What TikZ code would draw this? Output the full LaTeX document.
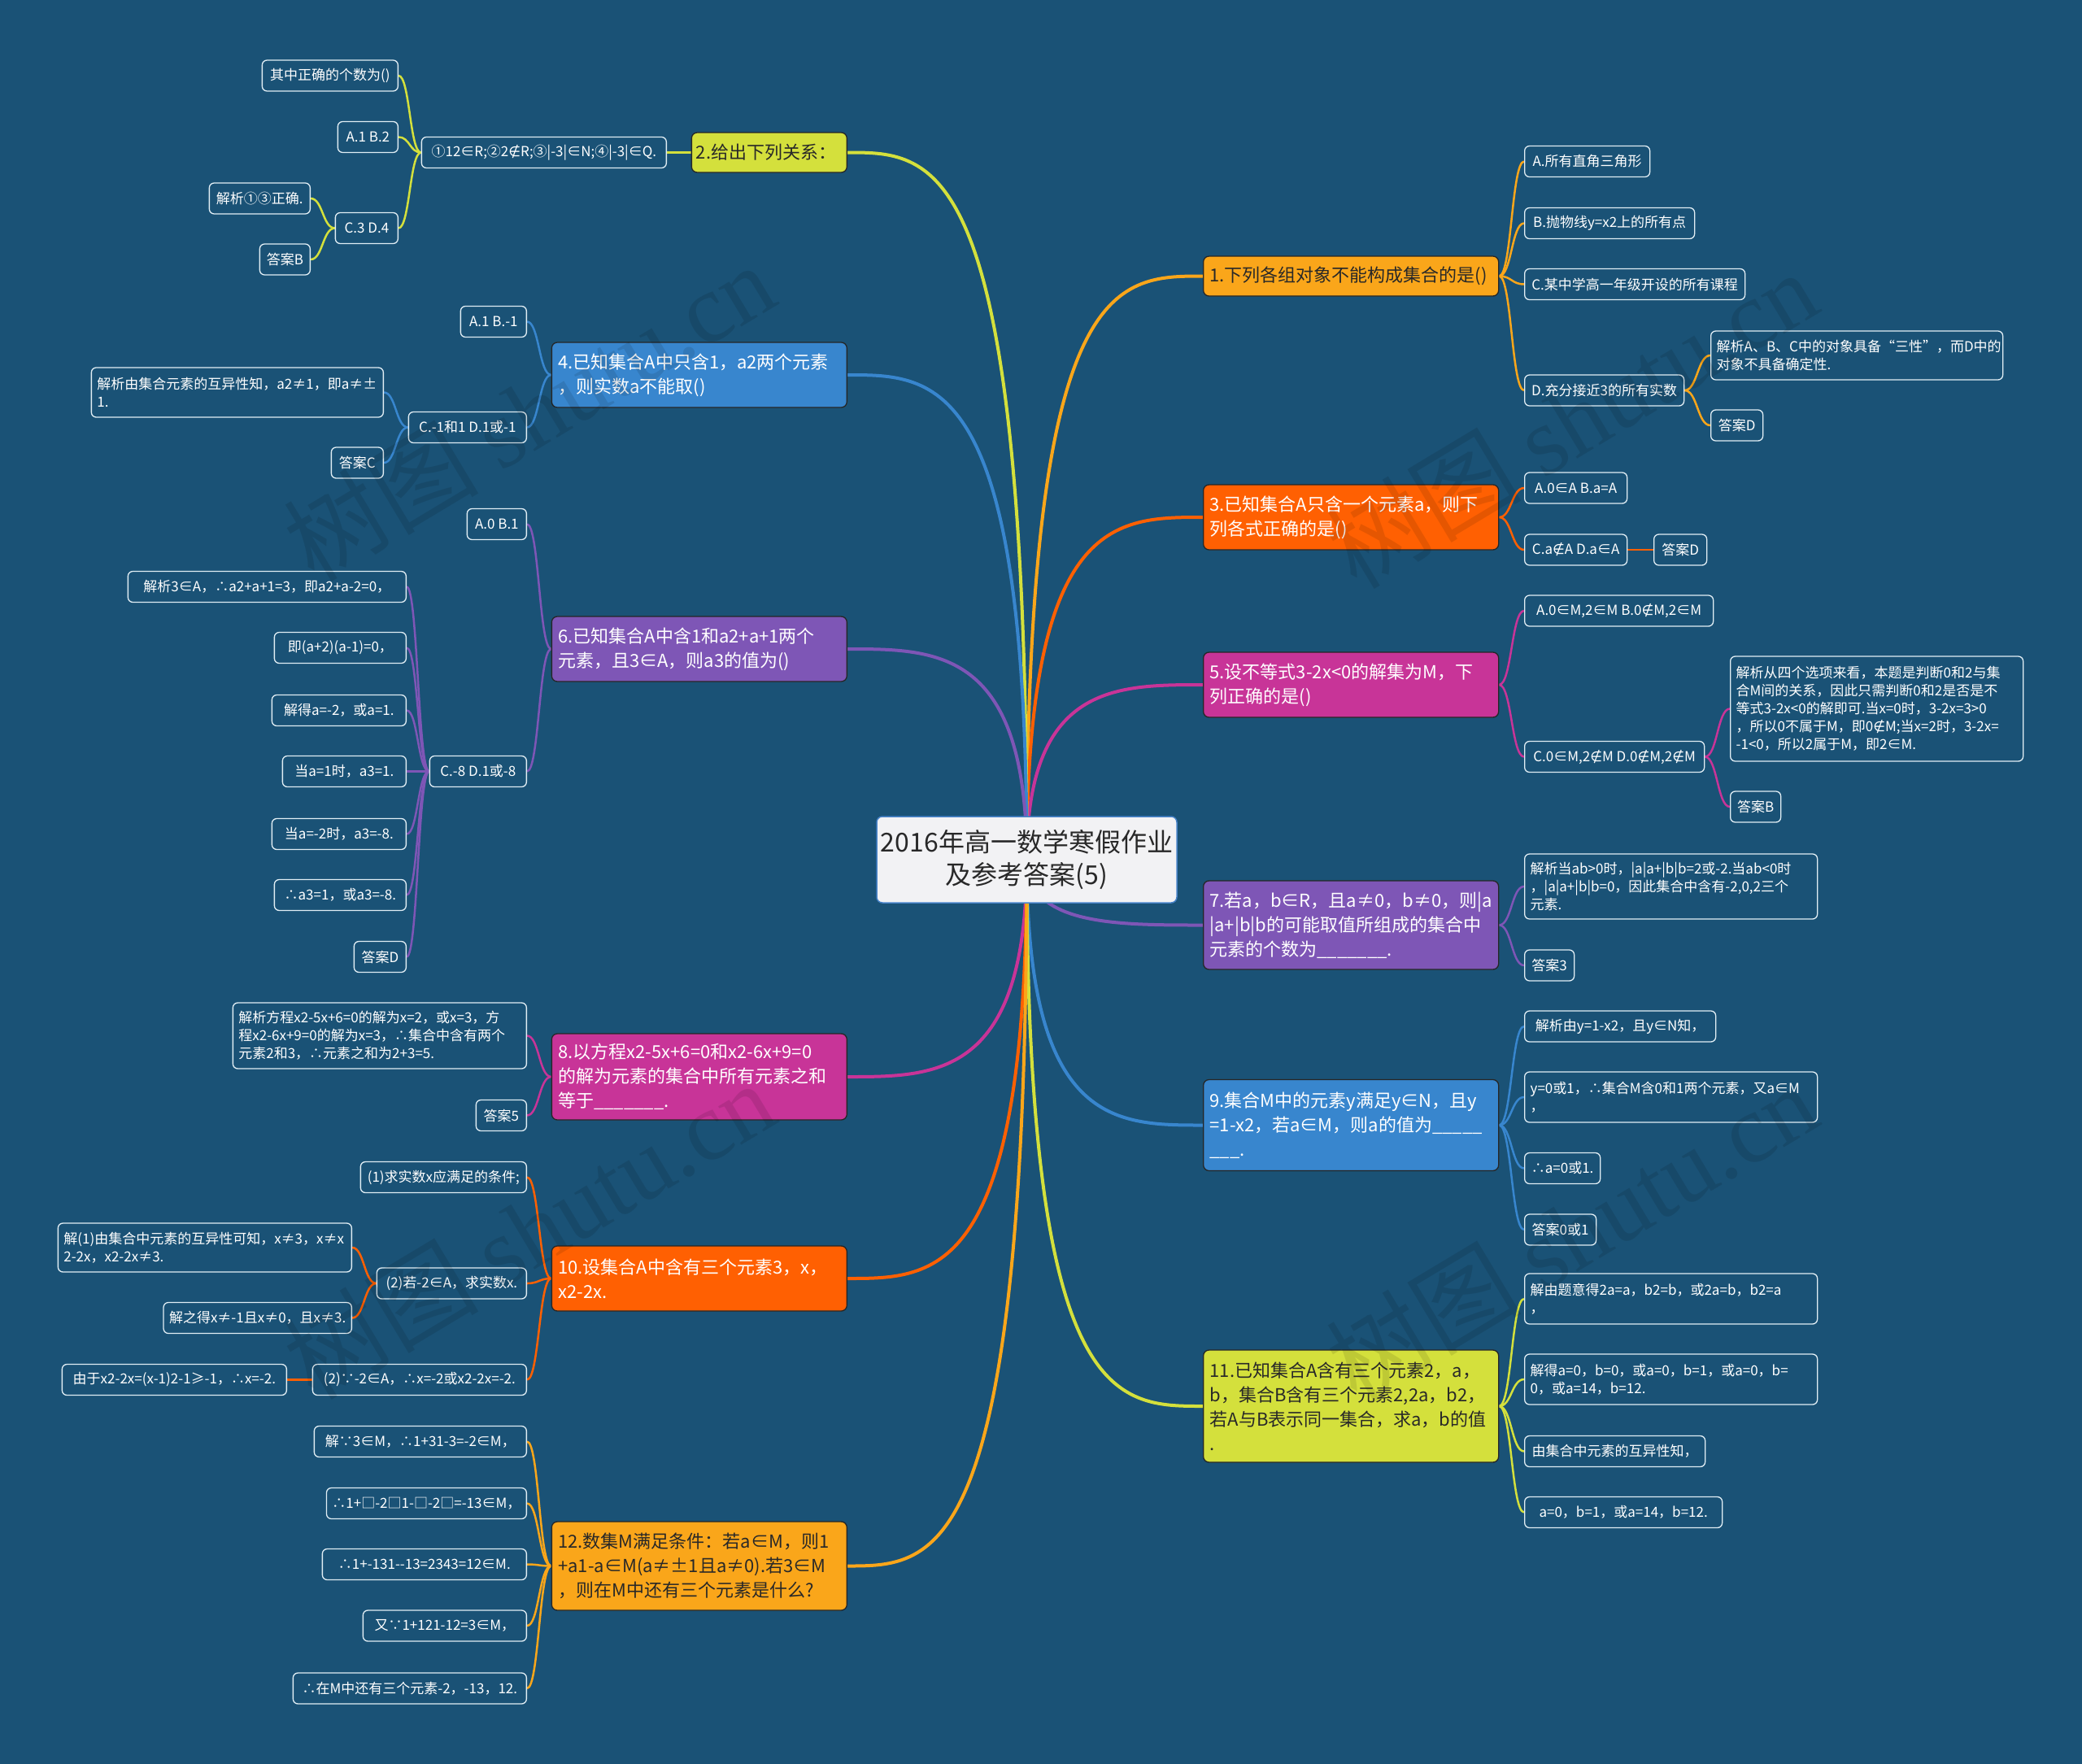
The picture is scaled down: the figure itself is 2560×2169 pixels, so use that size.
\documentclass[tikz,border=0pt]{standalone}
\usepackage{fontspec}
\setmainfont{Noto Sans CJK SC}
\newfontfamily\djv{DejaVu Sans}
\newfontfamily\wmser{Liberation Serif}
\usetikzlibrary{calc}
\definecolor{bgc}{RGB}{26,82,118}
\definecolor{cyo}{RGB}{250,166,26}
\definecolor{cyg}{RGB}{212,224,60}
\definecolor{cor}{RGB}{255,96,2}
\definecolor{cbl}{RGB}{56,134,206}
\definecolor{cmg}{RGB}{200,52,152}
\definecolor{cpu}{RGB}{126,86,182}
\definecolor{leafb}{RGB}{225,238,245}
\definecolor{ctrf}{RGB}{242,242,244}
\definecolor{ctrb}{RGB}{70,130,200}
\definecolor{dtxt}{RGB}{40,40,40}
\newcommand{\nn}{{\djv ∉}}
\pgfdeclarelayer{bglayer}
\pgfdeclarelayer{edgelayer}
\pgfsetlayers{bglayer,edgelayer,main}
\tikzset{
 leaf/.style={draw=leafb, line width=1.3pt, rounded corners=6pt, fill=bgc, text=white,
   font=\fontsize{17}{22}\selectfont, inner xsep=7pt, inner ysep=4pt, minimum height=38pt, align=left},
 topic/.style={draw=black!85, line width=1.3pt, rounded corners=7pt,
   font=\fontsize{22}{30}\selectfont, inner xsep=8pt, inner ysep=5pt, align=left, text width=347pt},
 ctr/.style={fill=ctrf, draw=ctrb, line width=1.5pt, rounded corners=7pt, text=dtxt,
   font=\fontsize{32}{40}\selectfont, align=center, minimum width=369pt, minimum height=106pt},
 mainedge/.style={line width=4pt, to path={let \p1=(\tikztostart), \p2=(\tikztotarget) in
   .. controls (\x1,\y2) and ({(\x1+\x2)/2},\y2) .. (\tikztotarget) \tikztonodes}},
 subedge/.style={line width=2.5pt, to path={let \p1=(\tikztostart), \p2=(\tikztotarget) in
   .. controls ({(\x1+\x2)/2},\y1) and ({(\x1+\x2)/2},\y2) .. (\tikztotarget) \tikztonodes}},
 wm/.style={text=black, text opacity=0.1, font=\fontsize{120}{120}\selectfont},
}
\begin{document}
\exhyphenpenalty=10000
\hyphenpenalty=10000
\begin{tikzpicture}[x=1pt,y=-1pt]
\begin{pgfonlayer}{bglayer}
\fill[bgc] (0,0) rectangle (2560,2169);
\end{pgfonlayer}
\useasboundingbox (0,0) rectangle (2560,2169);

% center
\node[ctr] (C) at (1262.5,1057) {2016年高一数学寒假作业\\及参考答案(5)};

% right topics
\node[topic, fill=cyo, text=dtxt, minimum height=49pt, anchor=west] (t1) at (1479,339.5) {1.下列各组对象不能构成集合的是()};
\node[topic, fill=cor, text=white, minimum height=80pt, anchor=west] (t3) at (1479,636) {3.已知集合A只含一个元素a，则下\\列各式正确的是()};
\node[topic, fill=cmg, text=white, minimum height=80pt, anchor=west] (t5) at (1479,842) {5.设不等式3-2x<0的解集为M，下\\列正确的是()};
\node[topic, fill=cpu, text=white, minimum height=109pt, anchor=west] (t7) at (1479,1137.5) {7.若a，b∈R，且a≠0，b≠0，则|a\\|a+|b|b的可能取值所组成的集合中\\元素的个数为\_\_\_\_\_\_\_.};
\node[topic, fill=cbl, text=white, minimum height=112pt, anchor=west] (t9) at (1479,1383.5) {9.集合M中的元素y满足y∈N，且y\\=1-x2，若a∈M，则a的值为\_\_\_\_\_\\\_\_\_.};
\node[topic, fill=cyg, text=dtxt, minimum height=138pt, anchor=west] (t11) at (1479,1729) {11.已知集合A含有三个元素2，a，\\b，集合B含有三个元素2,2a，b2，\\若A与B表示同一集合，求a，b的值\\.};

% left topics
\node[topic, fill=cyg, text=dtxt, minimum height=49pt, text width=180pt, inner xsep=5.5pt, anchor=east] (t2) at (1042,187.5) {2.给出下列关系：};
\node[topic, fill=cbl, text=white, minimum height=80pt, anchor=east] (t4) at (1042,461) {4.已知集合A中只含1，a2两个元素\\，则实数a不能取()};
\node[topic, fill=cpu, text=white, minimum height=80pt, anchor=east] (t6) at (1042,798) {6.已知集合A中含1和a2+a+1两个\\元素，且3∈A，则a3的值为()};
\node[topic, fill=cmg, text=white, minimum height=106pt, anchor=east] (t8) at (1042,1324) {8.以方程x2-5x+6=0和x2-6x+9=0\\的解为元素的集合中所有元素之和\\等于\_\_\_\_\_\_\_.};
\node[topic, fill=cor, text=white, minimum height=80pt, anchor=east] (t10) at (1042,1572) {10.设集合A中含有三个元素3，x，\\x2-2x.};
\node[topic, fill=cyo, text=dtxt, minimum height=109pt, anchor=east] (t12) at (1042,1925.5) {12.数集M满足条件：若a∈M，则1\\+a1-a∈M(a≠±1且a≠0).若3∈M\\，则在M中还有三个元素是什么?};

% group 1
\node[leaf, anchor=west, minimum width=154pt] (a1) at (1874,198.5) {A.所有直角三角形};
\node[leaf, anchor=west, minimum width=209pt] (b1) at (1874,274.5) {B.抛物线y=x2上的所有点};
\node[leaf, anchor=west, minimum width=271pt] (c1) at (1874,349.5) {C.某中学高一年级开设的所有课程};
\node[leaf, anchor=west, minimum width=196pt] (d1) at (1874,480) {D.充分接近3的所有实数};
\node[leaf, anchor=west, text width=345pt, minimum height=60pt] (d1a) at (2103,437) {解析A、B、C中的对象具备“三性”，而D中的\\对象不具备确定性.};
\node[leaf, anchor=west, minimum width=64pt] (d1b) at (2103,523) {答案D};

% group 3
\node[leaf, anchor=west, minimum width=126pt] (a3) at (1874,600) {A.0∈A B.a=A};
\node[leaf, anchor=west, minimum width=126pt] (b3) at (1874,676) {C.a\nn{}A D.a∈A};
\node[leaf, anchor=west, minimum width=65pt] (b3a) at (2033,676) {答案D};

% group 5
\node[leaf, anchor=west, minimum width=232pt] (a5) at (1874,751) {A.0∈M,2∈M B.0\nn{}M,2∈M};
\node[leaf, anchor=west, minimum width=221pt] (b5) at (1874,930.5) {C.0∈M,2\nn{}M D.0\nn{}M,2\nn{}M};
\node[leaf, anchor=west, text width=346pt, minimum height=129pt] (b5a) at (2127,871.5) {解析从四个选项来看，本题是判断0和2与集\\合M间的关系，因此只需判断0和2是否是不\\等式3-2x<0的解即可.当x=0时，3-2x=3>0\\，所以0不属于M，即0\nn{}M;当x=2时，3-2x=\\-1<0，所以2属于M，即2∈M.};
\node[leaf, anchor=west, minimum width=62pt] (b5b) at (2127,992) {答案B};

% group 7
\node[leaf, anchor=west, text width=346pt, minimum height=80pt] (a7) at (1874,1090) {解析当ab>0时，|a|a+|b|b=2或-2.当ab<0时\\，|a|a+|b|b=0，因此集合中含有-2,0,2三个\\元素.};
\node[leaf, anchor=west, minimum width=61pt] (b7) at (1874,1187) {答案3};

% group 9
\node[leaf, anchor=west, minimum width=235pt] (a9) at (1874,1262) {解析由y=1-x2，且y∈N知，};
\node[leaf, anchor=west, text width=346pt, minimum height=62pt] (b9) at (1874,1349) {y=0或1，∴集合M含0和1两个元素，又a∈M\\，};
\node[leaf, anchor=west, minimum width=93pt] (c9) at (1874,1436.5) {∴a=0或1.};
\node[leaf, anchor=west, minimum width=88pt] (d9) at (1874,1512) {答案0或1};

% group 11
\node[leaf, anchor=west, text width=346pt, minimum height=62pt] (a11) at (1874,1597) {解由题意得2a=a，b2=b，或2a=b，b2=a\\，};
\node[leaf, anchor=west, text width=346pt, minimum height=62pt] (b11) at (1874,1696) {解得a=0，b=0，或a=0，b=1，或a=0，b=\\0，或a=14，b=12.};
\node[leaf, anchor=west, minimum width=222pt] (c11) at (1874,1784.5) {由集合中元素的互异性知，};
\node[leaf, anchor=west, minimum width=243pt] (d11) at (1874,1859.5) {a=0，b=1，或a=14，b=12.};

% group 2
\node[leaf, anchor=east, minimum width=301pt] (a2) at (820,187.5) {①12∈R;②2\nn{}R;③|-3|∈N;④|-3|∈Q.};
\node[leaf, anchor=east, minimum width=167pt] (a2a) at (490,93) {其中正确的个数为()};
\node[leaf, anchor=east, minimum width=74pt] (a2b) at (490,168.5) {A.1 B.2};
\node[leaf, anchor=east, minimum width=77pt] (a2c) at (490,280.5) {C.3 D.4};
\node[leaf, anchor=east, minimum width=124pt] (a2c1) at (382,244) {解析①③正确.};
\node[leaf, anchor=east, minimum width=62pt] (a2c2) at (382,319) {答案B};

% group 4
\node[leaf, anchor=east, minimum width=81pt] (a4) at (648,395.5) {A.1 B.-1};
\node[leaf, anchor=east, minimum width=145pt] (b4) at (648,525.5) {C.-1和1 D.1或-1};
\node[leaf, anchor=east, text width=345pt, minimum height=61pt] (b4a) at (472,482.5) {解析由集合元素的互异性知，a2≠1，即a≠±\\1.};
\node[leaf, anchor=east, minimum width=64pt] (b4b) at (472,569) {答案C};

% group 6
\node[leaf, anchor=east, minimum width=73pt] (a6) at (648,644.5) {A.0 B.1};
\node[leaf, anchor=east, minimum width=119pt] (b6) at (648,948.5) {C.-8 D.1或-8};
\node[leaf, anchor=east, minimum width=342pt] (b6a) at (500,721.5) {解析3∈A，∴a2+a+1=3，即a2+a-2=0，};
\node[leaf, anchor=east, minimum width=162pt] (b6b) at (500,796.5) {即(a+2)(a-1)=0，};
\node[leaf, anchor=east, minimum width=165pt] (b6c) at (500,873.5) {解得a=-2，或a=1.};
\node[leaf, anchor=east, minimum width=152pt] (b6d) at (500,948.5) {当a=1时，a3=1.};
\node[leaf, anchor=east, minimum width=165pt] (b6e) at (500,1025.5) {当a=-2时，a3=-8.};
\node[leaf, anchor=east, minimum width=162pt] (b6f) at (500,1100.5) {∴a3=1，或a3=-8.};
\node[leaf, anchor=east, minimum width=64pt] (b6g) at (500,1176.5) {答案D};

% group 8
\node[leaf, anchor=east, text width=347pt, minimum height=81pt] (a8) at (648,1273.5) {解析方程x2-5x+6=0的解为x=2，或x=3，方\\程x2-6x+9=0的解为x=3，∴集合中含有两个\\元素2和3，∴元素之和为2+3=5.};
\node[leaf, anchor=east, minimum width=62pt] (b8) at (648,1371.5) {答案5};

% group 10
\node[leaf, anchor=east, minimum width=204pt] (a10) at (648,1447.5) {(1)求实数x应满足的条件;};
\node[leaf, anchor=east, minimum width=184pt] (b10) at (648,1578) {(2)若-2∈A，求实数x.};
\node[leaf, anchor=east, text width=347pt, minimum height=60pt] (b10a) at (433,1534) {解(1)由集合中元素的互异性可知，x≠3，x≠x\\2-2x，x2-2x≠3.};
\node[leaf, anchor=east, minimum width=231pt] (b10b) at (433,1620.5) {解之得x≠-1且x≠0，且x≠3.};
\node[leaf, anchor=east, minimum width=263pt] (c10) at (648,1696.5) {(2)∵-2∈A，∴x=-2或x2-2x=-2.};
\node[leaf, anchor=east, minimum width=276pt] (c10a) at (353,1696.5) {由于x2-2x=(x-1)2-1≥-1，∴x=-2.};

% group 12
\node[leaf, anchor=east, minimum width=261pt] (a12) at (648,1772.5) {解∵3∈M，∴1+31-3=-2∈M，};
\node[leaf, anchor=east, minimum width=245pt] (b12) at (648,1848.5) {∴1+□-2□1-□-2□=-13∈M，};
\node[leaf, anchor=east, minimum width=251pt] (c12) at (648,1923.5) {∴1+-131-{}-13=2343=12∈M.};
\node[leaf, anchor=east, minimum width=201pt] (d12) at (648,1999) {又∵1+121-12=3∈M，};
\node[leaf, anchor=east, minimum width=287pt] (e12) at (648,2076) {∴在M中还有三个元素-2，-13，12.};

% edges
\begin{pgfonlayer}{edgelayer}
\draw[cyo, mainedge] (C.center) to (t1.west);
\draw[cor, mainedge] (C.center) to (t3.west);
\draw[cmg, mainedge] (C.center) to (t5.west);
\draw[cpu, mainedge] (C.center) to (t7.west);
\draw[cbl, mainedge] (C.center) to (t9.west);
\draw[cyg, mainedge] (C.center) to (t11.west);
\draw[cyg, mainedge] (C.center) to (t2.east);
\draw[cbl, mainedge] (C.center) to (t4.east);
\draw[cpu, mainedge] (C.center) to (t6.east);
\draw[cmg, mainedge] (C.center) to (t8.east);
\draw[cor, mainedge] (C.center) to (t10.east);
\draw[cyo, mainedge] (C.center) to (t12.east);

\foreach \q in {a1,b1,c1,d1} \draw[cyo, subedge] (t1.east) to (\q.west);
\foreach \q in {d1a,d1b} \draw[cyo, subedge] (d1.east) to (\q.west);
\foreach \q in {a3,b3} \draw[cor, subedge] (t3.east) to (\q.west);
\draw[cor, subedge] (b3.east) to (b3a.west);
\foreach \q in {a5,b5} \draw[cmg, subedge] (t5.east) to (\q.west);
\foreach \q in {b5a,b5b} \draw[cmg, subedge] (b5.east) to (\q.west);
\foreach \q in {a7,b7} \draw[cpu, subedge] (t7.east) to (\q.west);
\foreach \q in {a9,b9,c9,d9} \draw[cbl, subedge] (t9.east) to (\q.west);
\foreach \q in {a11,b11,c11,d11} \draw[cyg, subedge] (t11.east) to (\q.west);

\draw[cyg, subedge] (t2.west) to (a2.east);
\foreach \q in {a2a,a2b,a2c} \draw[cyg, subedge] (a2.west) to (\q.east);
\foreach \q in {a2c1,a2c2} \draw[cyg, subedge] (a2c.west) to (\q.east);
\foreach \q in {a4,b4} \draw[cbl, subedge] (t4.west) to (\q.east);
\foreach \q in {b4a,b4b} \draw[cbl, subedge] (b4.west) to (\q.east);
\foreach \q in {a6,b6} \draw[cpu, subedge] (t6.west) to (\q.east);
\foreach \q in {b6a,b6b,b6c,b6d,b6e,b6f,b6g} \draw[cpu, subedge] (b6.west) to (\q.east);
\foreach \q in {a8,b8} \draw[cmg, subedge] (t8.west) to (\q.east);
\foreach \q in {a10,b10,c10} \draw[cor, subedge] (t10.west) to (\q.east);
\foreach \q in {b10a,b10b} \draw[cor, subedge] (b10.west) to (\q.east);
\draw[cor, subedge] (c10.west) to (c10a.east);
\foreach \q in {a12,b12,c12,d12,e12} \draw[cyo, subedge] (t12.west) to (\q.east);
\end{pgfonlayer}

% watermarks
\node[wm, rotate=31] (w1) at (650,506) {树图 {\wmser shutu.cn}};
\node[wm, rotate=31] (w2) at (650,1512) {树图 {\wmser shutu.cn}};
\node[wm, rotate=31] (w3) at (1932,515) {树图 {\wmser shutu.cn}};
\node[wm, rotate=31] (w4) at (1932,1515) {树图 {\wmser shutu.cn}};
\end{tikzpicture}
\end{document}
